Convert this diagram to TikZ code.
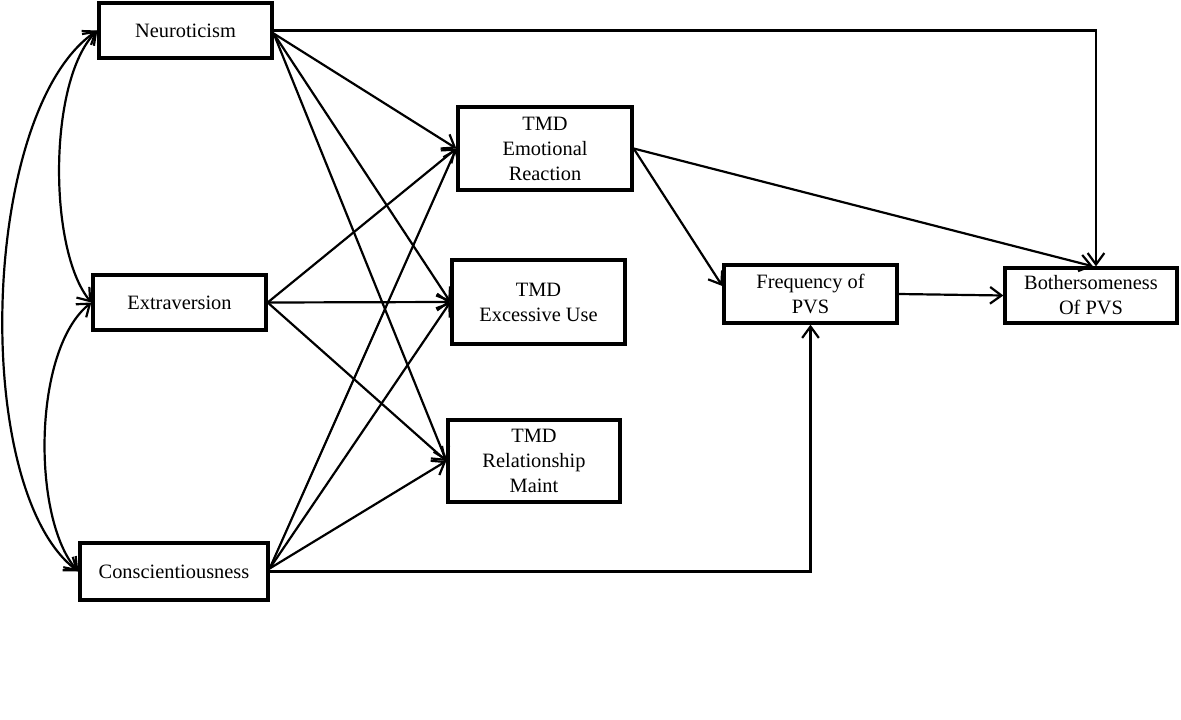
\documentclass[tikz,border=0pt]{standalone}
\usepackage{fontspec}
\setmainfont{Liberation Serif}
\usetikzlibrary{arrows.meta,calc}
\begin{document}
\begin{tikzpicture}[x=0.02cm,y=-0.02cm,
  box/.style={draw,line width=1.9pt,align=center,inner sep=0pt,font=\fontsize{11.6}{14.2}\selectfont},
  tip/.tip={Straight Barb[length=6.5pt,width=9.5pt]},
  conn/.style={line width=1.25pt,-tip},
  dbl/.style={line width=1.25pt,tip-tip}]
\useasboundingbox (0,0) rectangle (1181,720);

\node[box,minimum width=3.46cm,minimum height=1.1cm] (N) at (185.5,30.5) {Neuroticism};
\node[box,minimum width=3.46cm,minimum height=1.1cm] (E) at (179.5,302.5) {Extraversion};
\node[box,minimum width=3.76cm,minimum height=1.14cm] (C) at (174,571.5) {Conscientiousness};
\node[box,minimum width=3.48cm,minimum height=1.66cm] (ER) at (545,148.5) {TMD\\Emotional\\Reaction};
\node[box,minimum width=3.46cm,minimum height=1.68cm] (EU) at (538.5,302) {TMD\\Excessive Use};
\node[box,minimum width=3.44cm,minimum height=1.64cm] (RM) at (534,461) {TMD\\Relationship\\Maint};
\node[box,minimum width=3.46cm,minimum height=1.16cm] (F) at (810.5,294) {Frequency of\\PVS};
\node[box,minimum width=3.44cm,minimum height=1.1cm] (B) at (1091,295.5) {Bothersomeness\\Of PVS};

\coordinate (Nout) at ($(N.east)+(0,3)$);
\coordinate (Cout) at ($(C.east)+(0,-3)$);
\coordinate (Btop) at ($(B.north)+(5,0)$);
\coordinate (Btop2) at ($(B.north)+(2,0)$);
\coordinate (Fin) at ($(F.west)+(0,-8)$);

\draw[conn] (Nout) -- (ER.west);
\draw[conn] (Nout) -- (EU.west);
\draw[conn] (Nout) -- (RM.west);
\draw[conn] (N.east) -| (Btop);

\draw[conn] (E.east) -- (ER.west);
\draw[conn] (E.east) -- (EU.west);
\draw[conn] (E.east) -- (RM.west);

\draw[conn] (Cout) -- (ER.west);
\draw[conn] (Cout) -- (EU.west);
\draw[conn] (Cout) -- (RM.west);
\draw[conn] (C.east) -| (F.south);

\draw[conn] (ER.east) -- (Fin);
\draw[conn] (ER.east) -- (Btop2);
\draw[conn] (F.east) -- (B.west);

\draw[dbl] (N.west) .. controls (-20,110) and (-30,490) .. (C.west);
\draw[dbl] (N.west) .. controls (48,80) and (48,250) .. (E.west);
\draw[dbl] (E.west) .. controls (32,350) and (32,520) .. (C.west);
\end{tikzpicture}
\end{document}
